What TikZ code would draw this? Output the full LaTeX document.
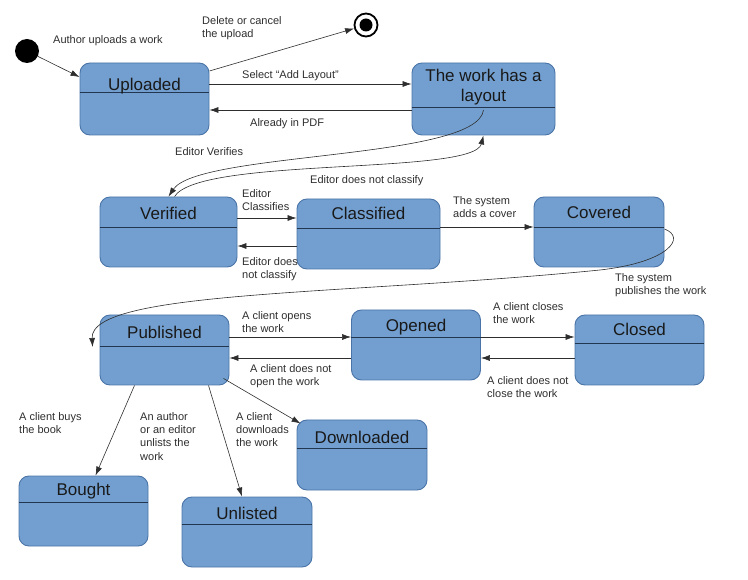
\documentclass[tikz,border=0pt]{standalone}
\usepackage{fontspec}
\setmainfont{Liberation Sans}
\usetikzlibrary{arrows.meta}
\definecolor{stateblue}{HTML}{729FCF}
\definecolor{stateedge}{HTML}{4A74A8}
\definecolor{splitline}{HTML}{22364F}
\definecolor{linegray}{HTML}{2E2E2E}
\tikzset{
  statebox/.style={draw=stateedge, line width=0.9pt, fill=stateblue, rounded corners=10pt, inner sep=0pt},
  statetitle/.style={font=\fontsize{17}{20}\selectfont, text=black!90, inner sep=0pt, anchor=base, align=center},
  edgelabel/.style={font=\fontsize{11}{13.3}\selectfont, text=linegray, inner sep=0pt, anchor=north west, align=left},
  trans/.style={draw=linegray, line width=0.6pt, -{Latex[length=9pt,width=6pt]}},
}
\begin{document}
\begin{tikzpicture}[x=1pt,y=-1pt]
\useasboundingbox (0,0) rectangle (748,580);
% states: name/x/y/width/height/divider/baseline/title
\foreach \n/\cx/\cy/\w/\h/\d/\b/\t in {
  up/144.5/99/129/72/92/91/Uploaded,
  lay/483.5/99/143/72/107/102/The work has a\\layout,
  ver/168.5/232/137/70/227/220/Verified,
  cla/368.5/234/143/70/228/220/Classified,
  cov/599/232/130/70/227/219/Covered,
  pub/164.5/350/129/70/346/339/Published,
  ope/416/345/129/70/337/332/Opened,
  clo/639.5/350/129/70/343/336/Closed,
  dow/362/455/130/70/448/443/Downloaded,
  bou/83.5/511/129/70/502/495/Bought,
  unl/247/532/130/70/524/519/Unlisted}{
  \node[statebox, minimum width=\w, minimum height=\h] (\n) at (\cx,\cy) {};
  \draw[splitline, line width=0.9pt] (\n.west |- 0,\d) -- (\n.east |- 0,\d);
  \node[statetitle] (\n-title) at (\cx,\b) {\t};
}
% initial and final state
\node[circle, fill=black, minimum size=24pt, inner sep=0pt] (start) at (27,51) {};
\node[circle, draw=black, line width=1.8pt, minimum size=23pt, inner sep=0pt] (stop) at (366,25) {};
\node[circle, fill=black, minimum size=13pt, inner sep=0pt] (stop-dot) at (stop) {};

% transitions
\draw[trans] (start) -- ([yshift=22pt]up.west);
\draw[trans] ([yshift=28pt]up.east) -- (stop);
\draw[trans] ([yshift=15pt]up.east) -- ([yshift=15pt]lay.west);
\draw[trans] ([yshift=-11pt]lay.west) -- ([yshift=-11pt]up.east);
\draw[trans] ([yshift=-11pt]lay.center) .. controls +(-6,50) and +(30,-45) .. (ver.north);
\draw[trans] ([xshift=6pt]ver.north) .. controls +(25,-40) and +(-10,40) .. (lay.south);
\draw[trans] ([yshift=14pt]ver.east) -- ([yshift=14pt]ver.east -| cla.west);
\draw[trans] ([yshift=-12pt]cla.west) -- ([yshift=-12pt]cla.west -| ver.east);
\draw[trans] ([yshift=5pt]cov.west -| cla.east) -- ([yshift=5pt]cov.west);
\draw[trans] ([yshift=3pt]cov.east) .. controls +(22,8) and +(70,-8) .. (600,270)
  .. controls +(-250,25) and +(-3,-57) .. ([shift={(-7pt,3pt)}]pub.west);
\draw[trans] ([yshift=13pt]pub.east) -- ([yshift=13pt]pub.east -| ope.west);
\draw[trans] ([yshift=-13pt]ope.west) -- ([yshift=-13pt]ope.west -| pub.east);
\draw[trans] ([yshift=8pt]ope.east) -- ([yshift=8pt]ope.east -| clo.west);
\draw[trans] ([yshift=-8pt]clo.west) -- ([yshift=-8pt]clo.west -| ope.east);
\draw[trans] ([xshift=-30pt]pub.south) -- ([xshift=12pt]bou.north);
\draw[trans] ([xshift=44pt]pub.south) -- ([xshift=-5pt]unl.north);
\draw[trans] ([shift={(-6pt,7pt)}]pub.south east) -- ([shift={(4pt,-4pt)}]dow.north west);

% labels
\node[edgelabel] (l-upload) at (53,35) {Author uploads a work};
\node[edgelabel] (l-delete) at (202,16) {Delete or cancel\\the upload};
\node[edgelabel] (l-select) at (242,70) {Select “Add Layout”};
\node[edgelabel] (l-pdf) at (250,118) {Already in PDF};
\node[edgelabel] (l-verify) at (175,147) {Editor Verifies};
\node[edgelabel] (l-noclass1) at (310,175) {Editor does not classify};
\node[edgelabel] (l-classify) at (242,189) {Editor\\Classifies};
\node[edgelabel] (l-noclass2) at (242,257) {Editor does\\not classify};
\node[edgelabel] (l-cover) at (453,196) {The system\\adds a cover};
\node[edgelabel] (l-publish) at (615,273) {The system\\publishes the work};
\node[edgelabel] (l-open) at (242,311) {A client opens\\the work};
\node[edgelabel] (l-noopen) at (250,364) {A client does not\\open the work};
\node[edgelabel] (l-close) at (493,302) {A client closes\\the work};
\node[edgelabel] (l-noclose) at (487,376) {A client does not\\close the work};
\node[edgelabel] (l-buy) at (19,412) {A client buys\\the book};
\node[edgelabel] (l-unlist) at (140,412) {An author\\or an editor\\unlists the\\work};
\node[edgelabel] (l-download) at (236,412) {A client\\downloads\\the work};
\end{tikzpicture}
\end{document}
